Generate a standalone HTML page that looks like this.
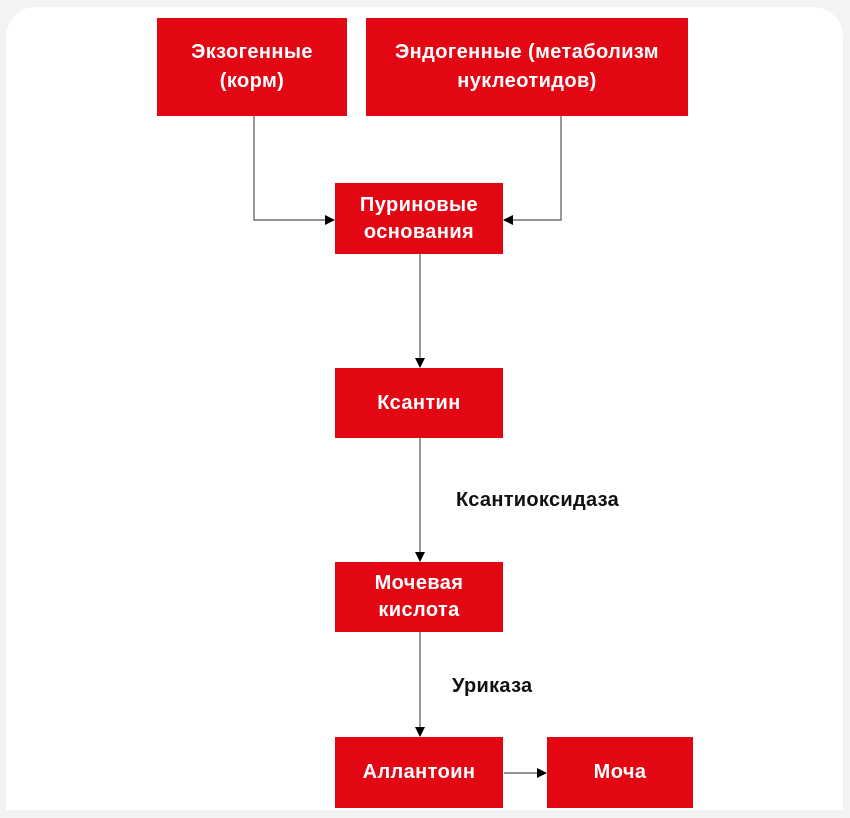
<!DOCTYPE html>
<html><head><meta charset="utf-8"><style>
body{margin:0;width:850px;height:818px;background:#f3f3f3;position:relative;overflow:hidden;font-family:"Liberation Sans",sans-serif;}
.card{position:absolute;left:6px;top:7px;width:837px;height:803px;background:#fff;border-radius:30px 30px 0 0;}
.b{position:absolute;background:#e30613;color:#fff;font-weight:bold;font-size:20px;letter-spacing:0.4px;line-height:29px;display:flex;align-items:center;justify-content:center;text-align:center;}
.l{position:absolute;font-weight:bold;font-size:20px;letter-spacing:0.3px;color:#111;}
svg{position:absolute;left:0;top:0;}
</style></head><body>
<div class="card"></div>
<svg width="850" height="818">
<defs><marker id="a" markerWidth="10" markerHeight="10" refX="9" refY="5" orient="auto" markerUnits="userSpaceOnUse"><path d="M0,0 L10,5 L0,10z" fill="#000"/></marker></defs>
<g stroke="#555" stroke-width="1.2" fill="none">
<path d="M254,116 V220 H334" marker-end="url(#a)"/>
<path d="M561,116 V220 H504" marker-end="url(#a)"/>
<path d="M420,254 V367" marker-end="url(#a)"/>
<path d="M420,438 V561" marker-end="url(#a)"/>
<path d="M420,632 V736" marker-end="url(#a)"/>
<path d="M504,773 H546" marker-end="url(#a)"/>
</g></svg>
<div class="b" style="left:157px;top:18px;width:190px;height:98px">Экзогенные<br>(корм)</div>
<div class="b" style="left:366px;top:18px;width:322px;height:98px">Эндогенные (метаболизм<br>нуклеотидов)</div>
<div class="b" style="left:335px;top:183px;width:168px;height:71px;line-height:27px">Пуриновые<br>основания</div>
<div class="b" style="left:335px;top:368px;width:168px;height:70px">Ксантин</div>
<div class="b" style="left:335px;top:562px;width:168px;height:70px;line-height:27px">Мочевая<br>кислота</div>
<div class="b" style="left:335px;top:737px;width:168px;height:71px">Аллантоин</div>
<div class="b" style="left:547px;top:737px;width:146px;height:71px">Моча</div>
<div class="l" style="left:456px;top:489px">Ксантиоксидаза</div>
<div class="l" style="left:452px;top:675px">Уриказа</div>
</body></html>
